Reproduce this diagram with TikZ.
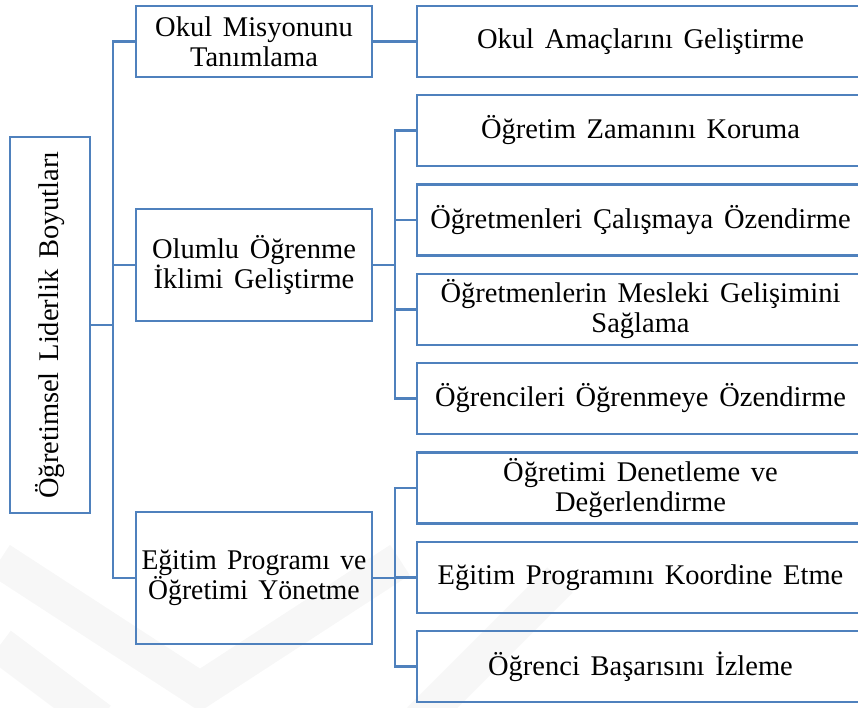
\documentclass[tikz,border=0pt]{standalone}
\usepackage{fontspec}
\setmainfont[WordSpace=1.5]{Liberation Serif}
\begin{document}
\begin{tikzpicture}[x=1pt,y=-1pt,
  box/.style={draw=lineblue, line width=2.8pt, rectangle, inner sep=0pt, outer sep=0pt,
    align=center, font=\fontsize{28.5}{30}\selectfont},
  conn/.style={draw=lineblue, line width=2.8pt}]
\definecolor{lineblue}{HTML}{4F81BD}
\useasboundingbox (0,0) rectangle (858,707);
\clip (0,0) rectangle (858,707);
% faint watermark
\begin{scope}[draw=black!3, line width=36pt, line join=miter]
  \draw (0,560) -- (200,690) -- (400,560);
  \draw (0,645) -- (100,720);
  \draw (420,720) -- (560,580);
\end{scope}
% nodes
\node[box, minimum width=80pt, minimum height=376pt] (root) at (50,325)
  {\rotatebox{90}{Öğretimsel Liderlik Boyutları}};
\node[box, minimum width=236pt, minimum height=71pt] (A) at (254,41.5)
  {Okul Misyonunu\\Tanımlama};
\node[box, minimum width=236pt, minimum height=112pt] (B) at (254,265)
  {Olumlu Öğrenme\\İklimi Geliştirme};
\node[box, minimum width=236pt, minimum height=132pt] (C) at (254,578)
  {\scalebox{0.97}[1]{Eğitim Programı ve}\\\scalebox{0.97}[1]{Öğretimi Yönetme}};
\node[box, minimum width=447pt, minimum height=71pt] (R1) at (640.5,41.5) {Okul Amaçlarını Geliştirme};
\node[box, minimum width=447pt, minimum height=71pt] (R2) at (640.5,130.5) {Öğretim Zamanını Koruma};
\node[box, minimum width=447pt, minimum height=71pt] (R3) at (640.5,220) {Öğretmenleri Çalışmaya Özendirme};
\node[box, minimum width=447pt, minimum height=71pt] (R4) at (640.5,309.5) {Öğretmenlerin Mesleki Gelişimini\\Sağlama};
\node[box, minimum width=447pt, minimum height=71pt] (R5) at (640.5,398.5) {Öğrencileri Öğrenmeye Özendirme};
\node[box, minimum width=447pt, minimum height=71pt] (R6) at (640.5,488) {Öğretimi Denetleme ve\\Değerlendirme};
\node[box, minimum width=447pt, minimum height=71pt] (R7) at (640.5,577.5) {Eğitim Programını Koordine Etme};
\node[box, minimum width=447pt, minimum height=71pt] (R8) at (640.5,666.5) {Öğrenci Başarısını İzleme};
% connectors
\draw[conn] (root.east) -- ++(23,0);
\draw[conn] (A.west) -- ++(-23,0) |- (C.west);
\draw[conn] (B.west) -- ++(-23,0);
\draw[conn] (A.east) -- (R1.west);
\draw[conn] (B.east) -- ++(23,0);
\draw[conn] (R2.west) -- ++(-22,0) |- (R5.west);
\draw[conn] (R3.west) -- ++(-22,0);
\draw[conn] (R4.west) -- ++(-22,0);
\draw[conn] (C.east) -- ++(23,0);
\draw[conn] (R6.west) -- ++(-22,0) |- (R8.west);
\draw[conn] (R7.west) -- ++(-22,0);
\end{tikzpicture}
\end{document}
